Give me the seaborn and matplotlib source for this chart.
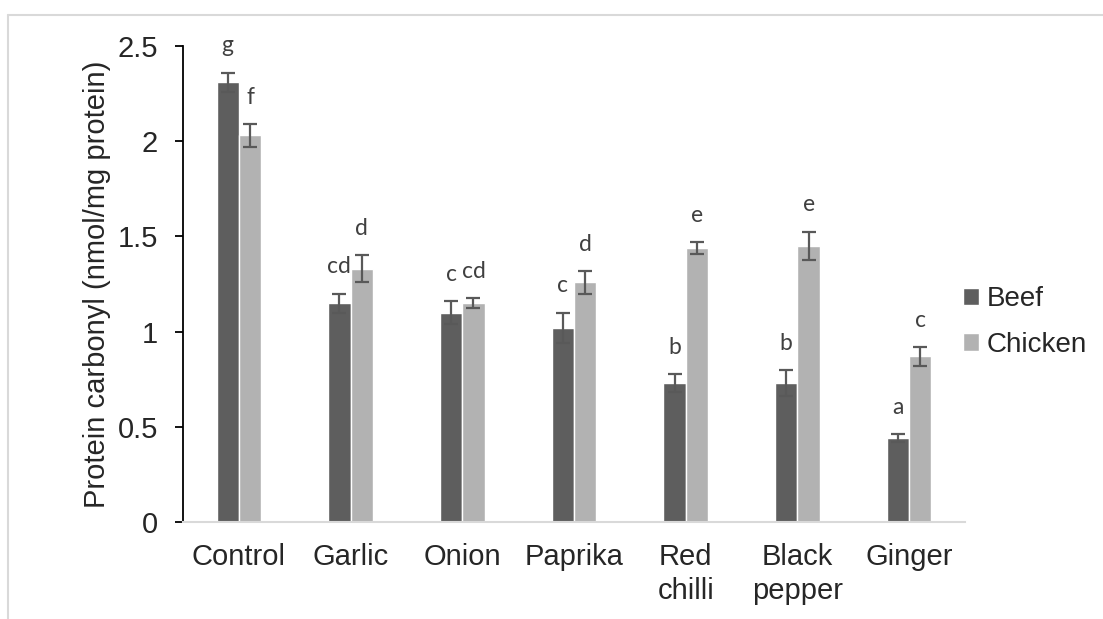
import numpy as np
import pandas as pd
import matplotlib
matplotlib.use('Agg')
import matplotlib.pyplot as plt
from matplotlib.lines import Line2D
import seaborn as sns

sns.set_style('white')
plt.rcParams['font.family'] = ['Liberation Sans', 'DejaVu Sans']

treatments = ['Control', 'Garlic', 'Onion', 'Paprika', 'Red\nchilli', 'Black\npepper', 'Ginger']
beef = [2.31, 1.15, 1.10, 1.02, 0.73, 0.73, 0.44]
beef_err = [0.05, 0.05, 0.06, 0.08, 0.045, 0.07, 0.02]
chicken = [2.03, 1.33, 1.15, 1.26, 1.44, 1.45, 0.87]
chicken_err = [0.06, 0.07, 0.025, 0.06, 0.03, 0.075, 0.05]
beef_letters = ['g', 'cd', 'c', 'c', 'b', 'b', 'a']
chicken_letters = ['f', 'd', 'cd', 'd', 'e', 'e', 'c']

BEEF_COLOR = '#5e5e5e'
CHICKEN_COLOR = '#b2b2b2'
FS = 21

df = pd.DataFrame({
    'Treatment': treatments * 2,
    'Value': beef + chicken,
    'Meat': ['Beef'] * len(beef) + ['Chicken'] * len(chicken),
})

fig = plt.figure(figsize=(11.03, 6.19), dpi=100)
ax = fig.add_axes([183 / 1103, 97 / 619, 782 / 1103, 476 / 619])

sns.barplot(
    data=df, x='Treatment', y='Value', hue='Meat',
    palette=[BEEF_COLOR, CHICKEN_COLOR], width=0.4, errorbar=None,
    saturation=1, ax=ax,
)

# error bars and significance letters
for cont, vals, errs, letters in zip(
    ax.containers,
    [beef, chicken],
    [beef_err, chicken_err],
    [beef_letters, chicken_letters],
):
    xs = [bar.get_x() + bar.get_width() / 2 for bar in cont]
    ax.errorbar(xs, vals, yerr=errs, fmt='none', ecolor='#595959',
                elinewidth=1.6, capsize=5, capthick=1.6)
    for x, v, e, lab in zip(xs, vals, errs, letters):
        ax.text(x, v + e + 0.14, lab, ha='center', va='center',
                fontsize=16.5, color='#404040', family=['Lato', 'DejaVu Sans'])

ax.set_ylim(0, 2.5)
ax.set_xlim(-0.5, len(treatments) - 0.5)
ax.set_yticks([0, 0.5, 1, 1.5, 2, 2.5])
ax.set_yticklabels(['0', '0.5', '1', '1.5', '2', '2.5'])
ax.set_xlabel('')
ax.set_ylabel('Protein carbonyl (nmol/mg protein)', fontsize=FS, labelpad=5)

ax.tick_params(axis='y', left=True, length=6, width=1.3, color='black',
               labelsize=FS, pad=12)
ax.tick_params(axis='x', length=0, labelsize=FS, pad=15)
for lab in ax.get_xticklabels():
    lab.set_linespacing(1.3)

sns.despine(ax=ax)
ax.spines['left'].set_color('black')
ax.spines['left'].set_linewidth(1.3)
ax.spines['bottom'].set_color('#d9d9d9')
ax.spines['bottom'].set_linewidth(1.5)

ax.legend(
    loc='center left', bbox_to_anchor=(0.997, 0.42), frameon=False,
    fontsize=20, handlelength=0.58, handleheight=0.58, handletextpad=0.3,
    labelspacing=0.7, borderpad=0, borderaxespad=0,
)

# outer chart border (top and left visible)
fig.add_artist(Line2D([8 / 1103, 1], [1 - 15 / 619, 1 - 15 / 619],
                      color='#d9d9d9', lw=1.5))
fig.add_artist(Line2D([8 / 1103, 8 / 1103], [0, 1 - 15 / 619],
                      color='#d9d9d9', lw=1.5))

fig.savefig('out.png', dpi=100)
